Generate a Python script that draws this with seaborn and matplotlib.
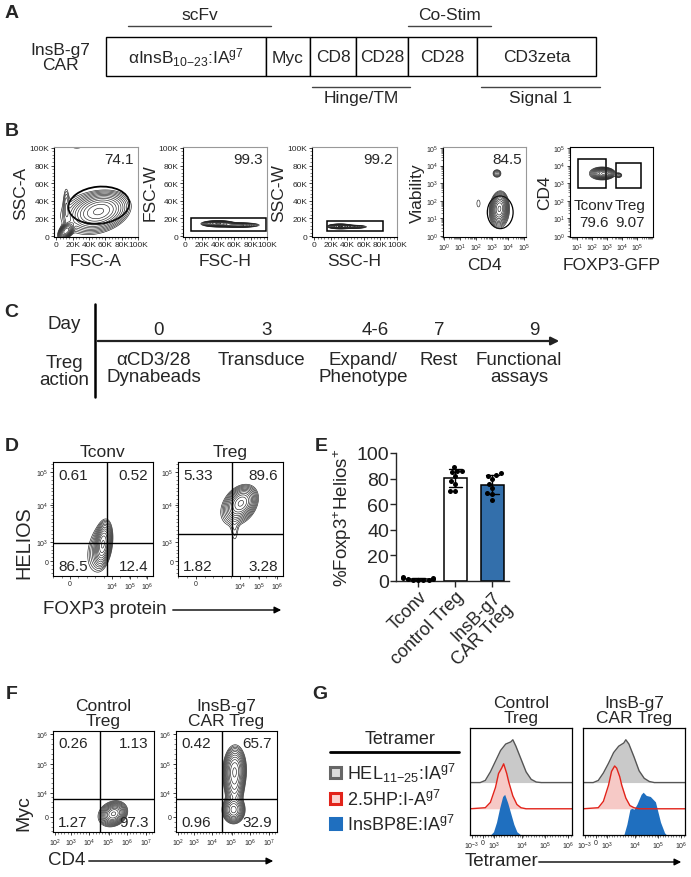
import numpy as np
import pandas as pd
import matplotlib
matplotlib.use('Agg')
import matplotlib.pyplot as plt
import seaborn as sns
from matplotlib.patches import Rectangle, Ellipse
from matplotlib.ticker import AutoMinorLocator, FixedLocator

W, H = 691, 878

# ---------------- data ----------------
# A: CAR construct (relative segment lengths)
car_parts = ['αInsB$_{10\\mathrm{-}23}$:IA$^{g7}$', 'Myc', 'CD8', 'CD28', 'CD28', 'CD3zeta']
car_lengths = [160, 44, 46, 52, 69, 119]

# C: timeline
days = ['0', '3', '4-6', '7', '9']
actions = ['αCD3/28\nDynabeads', 'Transduce', 'Expand/\nPhenotype', 'Rest', 'Functional\nassays']

# B: gate frequencies
b_labels = [('FSC-A', 'SSC-A'), ('FSC-H', 'FSC-W'), ('SSC-H', 'SSC-W'), ('CD4', 'Viability'), ('FOXP3-GFP', 'CD4')]
b_freq = ['74.1', '99.3', '99.2', '84.5']
b5_freq = ['79.6', '9.07']
# populations: (x, y, sd x, sd y, corr, weight)
b1_pops = [(52, 28, 15, 9, 0.25, 1.0), (12, 6, 4, 4, 0.5, 0.9), (12, 35, 2, 12, 0, 0.08),
           (35, 25, 22, 15, 0, 0.06), (25, 101, 7, 2, 0, 0.04)]
b2_pops = [(40, 14, 8, 1.4, 0, 1.0), (65, 12.5, 11, 1.2, 0, 0.45)]
b3_pops = [(31, 11, 6, 1.1, 0, 1.0), (46, 10.5, 8, 0.9, 0, 0.3)]
b4_pops = [(3.45, 1.55, 0.22, 0.38, 0.1, 1.0), (3.45, 1.3, 0.4, 0.55, 0, 0.06),
           (3.3, 3.55, 0.15, 0.13, 0, 0.12), (2.15, 1.85, 0.14, 0.28, 0, 0.04)]
b5_pops = [(2.75, 3.55, 0.3, 0.13, 0, 1.0), (2.45, 3.55, 0.4, 0.2, 0, 0.1), (3.75, 3.45, 0.13, 0.08, 0, 0.12)]
b1_gate = (52, 35, 75, 42)            # ellipse x, y, w, h
b2_gate = (7, 5.6, 99, 20)            # rect x0, y0, x1, y1
b3_gate = (15, 5.5, 83, 17)
b4_gate = (3.5, 1.35, 1.6, 1.85)
b5_gates = [(1.06, 2.71, 2.94, 4.36), (3.55, 2.75, 5.22, 4.14)]

# D: Helios vs FOXP3
d_titles = ['Tconv', 'Treg']
d_quads = [['0.61', '0.52', '86.5', '12.4'], ['5.33', '89.6', '1.82', '3.28']]
d_cut = [(54, 29), (51, 37)]
d_pops = [[(50, 28, 3.5, 8, 0.3, 1.0), (46, 24, 7, 12, 0.3, 0.12)],
          [(60, 64, 6, 6, 0.3, 1.0), (57, 60, 9, 9, 0.3, 0.15), (54, 40, 2.5, 8, 0, 0.05)]]
d_xticks, d_xlabels = [17, 59, 77, 94], ['0', '$10^4$', '$10^5$', '$10^6$']
d_yticks, d_ylabels = [13, 30, 62, 91], ['0', '$10^3$', '$10^4$', '$10^5$']

# E: %Foxp3+Helios+
groups = ['Tconv', 'control Treg', 'InsB-g7\nCAR Treg']
tconv_pct = [0.5, 0.8, 1.0, 1.2, 1.5, 2.0, 2.5, 3.0, 1.0]
control_pct = [89, 86, 86, 85, 82, 78, 76, 70, 70]
car_pct = [84, 83, 82, 80, 76, 73, 69, 68, 63]
bar_colors = ['white', 'white', '#1f6fbf']

# F: Myc vs CD4
f_titles = ['Control\nTreg', 'InsB-g7\nCAR Treg']
f_quads = [['0.26', '1.13', '1.27', '97.3'], ['0.42', '65.7', '0.96', '32.9']]
f_cut = [(47, 33), (46, 33)]
f_pops = [[(60, 18, 5, 4.5, 0.2, 1.0), (58, 18, 8, 7, 0.2, 0.1)],
          [(58, 60, 4.5, 10, 0.05, 1.0), (57, 22, 4.5, 5.5, 0, 0.8), (58, 42, 4, 8, 0, 0.3)]]
f_xticks, f_xlabels = [2, 17.5, 36, 55, 73, 92], ['$10^2$', '$10^3$', '$10^4$', '$10^5$', '$10^6$', '$10^7$']
f_yticks, f_ylabels = [15, 39, 67, 97], ['0', '$10^4$', '$10^5$', '$10^6$']

# G: tetramer histograms (x in channel units, height as fraction of panel)
tet_names = ['HEL$_{11\\mathrm{-}25}$:IA$^{g7}$', '2.5HP:I-A$^{g7}$', 'InsBP8E:IA$^{g7}$']
g_xticks, g_xlabels = [2, 12.5, 23.6, 50.8, 73.8, 96], ['$10^{-3}$', '0', '$10^3$', '$10^4$', '$10^5$', '$10^6$']
hel_x = [0, 10, 15, 20, 25, 30, 35, 40, 42, 45, 50, 55, 60, 65, 70, 100]
hel_ctrl = [0, 0, .02, .10, .20, .30, .36, .38, .40, .34, .22, .10, .03, .005, 0, 0]
hel_car = [0, 0, .02, .09, .18, .28, .34, .37, .40, .36, .24, .11, .04, .01, 0, 0]
hp_x = [0, 15, 20, 25, 28, 31, 33, 36, 38, 42, 46, 50, 55, 100]
hp_ctrl = [0, .01, .06, .20, .33, .38, .42, .33, .25, .12, .04, .01, 0, 0]
hp_car = [0, .01, .07, .22, .35, .40, .38, .30, .22, .10, .03, .01, 0, 0]
ins_ctrl_x = [0, 20, 23, 26, 29, 32, 34, 37, 40, 43, 46, 50, 100]
ins_ctrl = [0, 0, .03, .12, .25, .36, .38, .30, .20, .10, .03, 0, 0]
ins_car_x = [0, 40, 43, 46, 48, 50, 53, 57, 59, 62, 66, 71, 76, 80, 82, 100]
ins_car = [0, 0, .10, .24, .25, .24, .29, .38, .40, .37, .36, .31, .12, .02, 0, 0]

# ---------------- figure ----------------
sns.set_style('ticks')
plt.rcParams['font.family'] = ['Liberation Sans', 'DejaVu Sans']
plt.rcParams['mathtext.fontset'] = 'custom'
plt.rcParams['mathtext.rm'] = 'Liberation Sans'
plt.rcParams['mathtext.it'] = 'Liberation Sans:italic'
plt.rcParams['mathtext.bf'] = 'Liberation Sans:bold'
plt.rcParams['mathtext.default'] = 'regular'

fig = plt.figure(figsize=(W / 100, H / 100), dpi=100)


def px(x0, y0, x1, y1):
    return [x0 / W, 1 - y1 / H, (x1 - x0) / W, (y1 - y0) / H]


# overlay in pixel coordinates for diagrams and labels
ov = fig.add_axes([0, 0, 1, 1])
ov.set_xlim(0, W)
ov.set_ylim(H, 0)
ov.axis('off')

for letter, (lx, ly) in zip('ABCDEFG', [(5, 13), (5, 131), (4, 313), (5, 447), (315, 447), (6, 695), (312, 695)]):
    ov.text(lx, ly, letter, fontsize=14, fontweight='heavy', va='center', ha='left')

# ---- A ----
x = 106
for part, ln in zip(car_parts, car_lengths):
    ov.add_patch(Rectangle((x, 38), ln, 39, fc='white', ec='k', lw=1))
    ov.text(x + ln / 2, 58, part, fontsize=12.5, ha='center', va='center')
    x += ln
ov.text(60, 58, 'InsB-g7\nCAR', fontsize=12.5, ha='center', va='center', linespacing=1.0)
for (x0, x1, yl, yt, lab) in [(128, 271, 27, 15, 'scFv'), (408, 491, 27, 15, 'Co-Stim'),
                              (312, 410, 88, 99, 'Hinge/TM'), (481, 600, 88, 99, 'Signal 1')]:
    ov.plot([x0, x1], [yl, yl], color='#444', lw=1)
    ov.text((x0 + x1) / 2, yt, lab, fontsize=12.5, ha='center', va='center')


# ---- flow helpers ----
def density(ax, pops, xlim, ylim, lw=0.45):
    xs = np.linspace(xlim[0], xlim[1], 260)
    ys = np.linspace(ylim[0], ylim[1], 260)
    X, Y = np.meshgrid(xs, ys)
    Z = np.zeros_like(X)
    for cx, cy, sx, sy, r, w in pops:
        u = (X - cx) / sx
        v = (Y - cy) / sy
        Z += w * np.exp(-(u * u - 2 * r * u * v + v * v) / (2 * (1 - r * r)))
    ax.contour(X, Y, Z, levels=Z.max() * np.geomspace(0.03, 0.92, 12), colors='#222', linewidths=lw)


def flow_ax(rect, xlim, ylim, xt, xl, yt, yl, fs=5, minor_log=False, grey=False):
    ax = fig.add_axes(px(*rect))
    ax.set_xlim(xlim)
    ax.set_ylim(ylim)
    ax.set_xticks(xt)
    ax.set_xticklabels(xl, fontsize=fs)
    ax.set_yticks(yt)
    ax.set_yticklabels(yl, fontsize=fs)
    if minor_log:
        mx = [d + np.log10(k) for d in range(-1, 7) for k in range(2, 10)]
        ax.xaxis.set_minor_locator(FixedLocator(mx))
        ax.yaxis.set_minor_locator(FixedLocator(mx))
    else:
        ax.xaxis.set_minor_locator(AutoMinorLocator(5))
        ax.yaxis.set_minor_locator(AutoMinorLocator(5))
    ax.tick_params(which='major', length=2.2, width=0.6, pad=1)
    ax.tick_params(which='minor', length=1.2, width=0.4)
    for s in ax.spines.values():
        s.set_linewidth(0.8)
        s.set_color('k')
    if grey:
        ax.spines['top'].set_color('#999')
        ax.spines['right'].set_color('#999')
    return ax


# ---- B ----
kt = [0, 20, 40, 60, 80, 100]
ktl = ['0', '20K', '40K', '60K', '80K', '100K']
lin_lim = ((-3, 100), (-1, 101))
b_rects = [(54, 148, 138, 238), (183, 148, 267, 238), (312, 148, 397, 238), (443, 148, 526, 238), (570, 148, 653, 238)]
dec = ['$10^{%d}$' % i for i in range(6)]
for i, rect in enumerate(b_rects):
    if i < 3:
        ax = flow_ax(rect, lin_lim[0], lin_lim[1], kt, ktl, kt, ktl, fs=6, grey=True)
        density(ax, [b1_pops, b2_pops, b3_pops][i], lin_lim[0], lin_lim[1])
    elif i == 3:
        ax = flow_ax(rect, (-0.05, 5.1), (-0.05, 5.05), range(6), dec, range(6), dec, fs=5, minor_log=True, grey=True)
        density(ax, b4_pops, (-0.05, 5.1), (-0.05, 5.05))
        ax.add_patch(Ellipse(b4_gate[:2], b4_gate[2], b4_gate[3], fill=False, ec='k', lw=0.9))
    else:
        ax = flow_ax(rect, (0.5, 6.05), (-0.05, 5.05), range(1, 6), dec[1:], range(6), dec, fs=5, minor_log=True)
        density(ax, b5_pops, (0.5, 6.05), (-0.05, 5.05))
        for (x0, y0, x1, y1), name, fq in zip(b5_gates, ['Tconv', 'Treg'], b5_freq):
            ax.add_patch(Rectangle((x0, y0), x1 - x0, y1 - y0, fill=False, ec='k', lw=1.1))
            ax.text((x0 + x1) / 2 + 0.1, 1.75, name, fontsize=11, ha='center', va='center')
            ax.text((x0 + x1) / 2 + 0.1, 0.8, fq, fontsize=11, ha='center', va='center')
    if i == 0:
        ax.add_patch(Ellipse(b1_gate[:2], b1_gate[2], b1_gate[3], angle=5, fill=False, ec='k', lw=1.3))
    if i in (1, 2):
        g = [b2_gate, b3_gate][i - 1]
        ax.add_patch(Rectangle((g[0], g[1]), g[2] - g[0], g[3] - g[1], fill=False, ec='k', lw=1.1))
    if i < 4:
        ax.text(0.95, 0.95, b_freq[i], transform=ax.transAxes, fontsize=11, ha='right', va='top')
    ax.set_xlabel(b_labels[i][0], fontsize=12.5, labelpad=3)
    ax.set_ylabel(b_labels[i][1], fontsize=12.5, labelpad=1)

# ---- C ----
ov.plot([95, 95], [305, 398], color='k', lw=1.8)
ov.annotate('', xy=(562, 342), xytext=(95, 342),
            arrowprops=dict(arrowstyle='-|>', color='#222', lw=1.6, mutation_scale=12))
ov.text(64, 325, 'Day', fontsize=13.5, ha='center', va='center')
ov.text(64, 372, 'Treg\naction', fontsize=13.5, ha='center', va='center', linespacing=1.0)
for d, xd in zip(days, [159, 267, 375, 439, 534]):
    ov.text(xd, 331, d, fontsize=13.5, ha='center', va='center')
for a, xa in zip(actions, [154, 261, 363, 439, 519]):
    ov.text(xa, 352, a, fontsize=13.5, ha='center', va='top', linespacing=1.0)


# ---- D and F ----
def quad_panel(rect, pops, cut, quads, xt, xl, yt, yl, title):
    ax = flow_ax(rect, (0, 100), (0, 100), xt, xl, yt, yl, fs=5)
    density(ax, pops, (0, 100), (0, 100))
    ax.axvline(cut[0], color='k', lw=1)
    ax.axhline(cut[1], color='k', lw=1)
    for q, (qx, qy, ha, va) in zip(quads, [(0.05, 0.95, 'left', 'top'), (0.95, 0.95, 'right', 'top'),
                                         (0.05, 0.03, 'left', 'bottom'), (0.95, 0.03, 'right', 'bottom')]):
        ax.text(qx, qy, q, transform=ax.transAxes, fontsize=11, ha=ha, va=va)
    ax.set_title(title, fontsize=12.5, pad=4, linespacing=1.05)
    return ax


for j, rect in enumerate([(53, 463, 153, 577), (178, 463, 283, 577)]):
    ax = quad_panel(rect, d_pops[j], d_cut[j], d_quads[j], d_xticks, d_xlabels, d_yticks, d_ylabels, d_titles[j])
    if j == 0:
        ax.set_ylabel('HELIOS', fontsize=14.3, labelpad=2)
        ax.yaxis.set_label_coords(-0.2, 0.3)
ov.text(43, 610, 'FOXP3 protein', fontsize=13.5, ha='left', va='center')
ov.annotate('', xy=(284, 611), xytext=(170, 611),
            arrowprops=dict(arrowstyle='-|>', color='k', lw=1, mutation_scale=10))

for j, rect in enumerate([(53, 732, 154, 833), (176, 732, 277, 833)]):
    ax = quad_panel(rect, f_pops[j], f_cut[j], f_quads[j], f_xticks, f_xlabels, f_yticks, f_ylabels, f_titles[j])
    if j == 0:
        ax.set_ylabel('Myc', fontsize=14, labelpad=2)
        ax.yaxis.set_label_coords(-0.2, 0.2)
ov.text(48, 861, 'CD4', fontsize=13.5, ha='left', va='center')
ov.annotate('', xy=(276, 862), xytext=(86, 862),
            arrowprops=dict(arrowstyle='-|>', color='k', lw=1, mutation_scale=10))

# ---- E ----
axE = fig.add_axes(px(396, 454, 509, 582))
df_e = pd.DataFrame({'group': np.repeat(groups, [len(tconv_pct), len(control_pct), len(car_pct)]),
                     'pct': tconv_pct + control_pct + car_pct})
sns.barplot(data=df_e, x='group', y='pct', hue='group', palette=bar_colors, errorbar='sd',
            capsize=0.35, err_kws={'color': 'k', 'linewidth': 1}, edgecolor='k', linewidth=1.1,
            width=0.62, legend=False, ax=axE)
sns.swarmplot(data=df_e, x='group', y='pct', color='k', size=3.6, ax=axE, clip_on=False)
axE.set_xlim(-0.6, 2.45)
axE.set_ylim(0, 100)
axE.set_yticks([0, 20, 40, 60, 80, 100])
axE.tick_params(labelsize=14, length=4, width=1, pad=1)
axE.set_xticks(range(3))
axE.set_xticklabels(groups, rotation=45, ha='right', rotation_mode='anchor', fontsize=13, linespacing=1.0)
axE.set_xlabel('')
axE.set_ylabel('%Foxp3$^{+}$Helios$^{+}$', fontsize=13.5, labelpad=2)
sns.despine(ax=axE)
for s in axE.spines.values():
    s.set_linewidth(1)

# ---- G ----
ov.text(400, 740, 'Tetramer', fontsize=13, ha='center', va='center')
ov.plot([330, 459], [753, 753], color='k', lw=2)
for name, yy, ec, fc in zip(tet_names, [773, 800, 825], ['#666', '#e2231a', '#1f6fbf'], ['#ddd', '#fbd3d0', '#1f6fbf']):
    ov.add_patch(Rectangle((330, yy - 5.5), 11, 11, fc=fc, ec=ec, lw=2.2))
    ov.text(347, yy, name, fontsize=13, ha='left', va='center')

g_series = [[(hel_x, hel_ctrl), (hp_x, hp_ctrl), (ins_ctrl_x, ins_ctrl)],
            [(hel_x, hel_car), (hp_x, hp_car), (ins_car_x, ins_car)]]
for j, (rect, title) in enumerate(zip([(470, 729, 572, 836), (583, 729, 685, 836)], f_titles)):
    ax = fig.add_axes(px(*rect))
    for k, ((hx, hy), base) in enumerate(zip(g_series[j], [0.49, 0.245, 0.0])):
        hdf = pd.DataFrame({'x': hx, 'y': np.array(hy) + base})
        fill = ['#c9c9c9', '#f6c9c6', '#1f6fbf'][k]
        ax.fill_between(hdf['x'], base, hdf['y'], color=fill, lw=0)
        if k < 2:
            sns.lineplot(data=hdf, x='x', y='y', color=['#555', '#e2231a'][k], lw=1, ax=ax, sort=False)
    ax.set_xlim(0, 100)
    ax.set_ylim(0, 1)
    ax.set_yticks([])
    ax.set_xticks(g_xticks)
    ax.set_xticklabels(g_xlabels, fontsize=5)
    ax.xaxis.set_minor_locator(AutoMinorLocator(4))
    ax.tick_params(which='major', length=2.2, width=0.6, pad=1)
    ax.tick_params(which='minor', length=1.2, width=0.4)
    ax.set_xlabel('')
    ax.set_ylabel('')
    for s in ax.spines.values():
        s.set_linewidth(0.9)
        s.set_color('k')
    ax.set_title(title, fontsize=12.5, pad=4, linespacing=1.05)
ov.text(465, 862, 'Tetramer', fontsize=13.5, ha='left', va='center')
ov.annotate('', xy=(684, 863), xytext=(536, 863),
            arrowprops=dict(arrowstyle='-|>', color='k', lw=1, mutation_scale=10))

fig.savefig('out.png', dpi=100)
